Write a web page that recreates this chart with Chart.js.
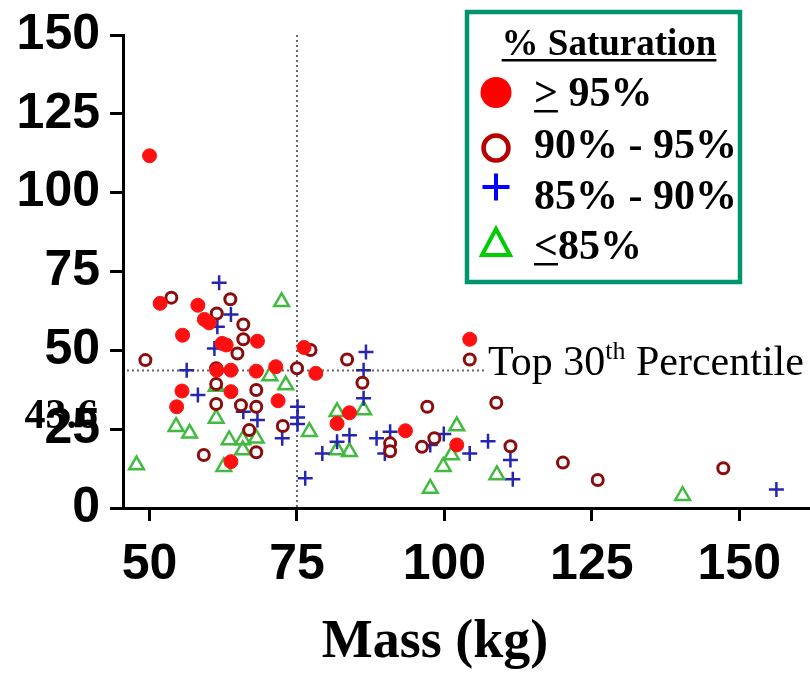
<!DOCTYPE html>
<html>
<head>
<meta charset="utf-8">
<script src="https://cdn.jsdelivr.net/npm/chart.js@4.4.1/dist/chart.umd.min.js"></script>
<style>
  html, body { margin: 0; padding: 0; background: #fff; }
  #wrap { position: relative; width: 810px; height: 677px; }
  canvas { display: block; }
</style>
</head>
<body>
<div id="wrap"><canvas id="c" width="810" height="677"></canvas></div>
<script>
// ---- data ----
const xTickValues = [50, 75, 100, 125, 150];
const yTickValues = [0, 25, 50, 75, 100, 125, 150];

const sat95X = [50.0, 51.8, 58.2, 59.3, 60.1, 55.6, 62.3, 63.0, 68.3, 61.4, 63.8, 68.1, 71.4, 78.2, 76.2, 55.5, 54.6, 63.8, 71.8, 63.8, 104.3, 83.9, 81.8, 93.4, 102.1];
const sat95Y = [111.7, 64.9, 64.3, 59.8, 58.7, 54.8, 52.2, 51.7, 52.9, 43.7, 43.7, 43.4, 44.8, 42.7, 50.9, 37.1, 32.1, 36.9, 34.0, 14.7, 53.5, 30.2, 26.8, 24.5, 20.0];

const sat90X = [53.7, 63.7, 61.4, 65.9, 65.9, 64.9, 49.3, 61.3, 61.3, 68.1, 61.3, 65.5, 68.1, 66.9, 72.6, 59.2, 68.1, 75.0, 77.3, 83.5, 86.1, 104.3, 97.1, 108.8, 90.8, 90.8, 96.2, 98.3, 111.2, 120.1, 126.0, 147.3];
const sat90Y = [66.7, 66.2, 61.7, 58.2, 53.5, 49.0, 46.9, 44.3, 39.3, 37.4, 33.0, 32.6, 32.1, 24.7, 26.0, 16.8, 17.7, 44.3, 50.1, 47.1, 39.7, 47.1, 32.1, 33.4, 20.5, 18.0, 19.4, 22.1, 19.6, 14.4, 8.9, 12.6];

const sat85X = [61.8, 63.8, 61.5, 61.0, 56.3, 58.2, 65.9, 68.3, 75.1, 75.1, 75.1, 72.5, 76.4, 86.7, 86.3, 86.3, 81.8, 83.9, 79.3, 88.5, 90.8, 89.9, 99.9, 97.6, 104.3, 107.4, 111.2, 111.6, 156.3];
const sat85Y = [71.4, 61.4, 57.5, 50.6, 43.7, 35.8, 30.5, 27.9, 32.1, 28.7, 26.6, 22.1, 9.4, 49.5, 43.7, 34.8, 21.0, 23.1, 17.3, 22.1, 24.2, 17.3, 23.5, 20.0, 17.3, 21.2, 15.2, 9.1, 5.9];

const satLowX = [72.4, 70.4, 73.1, 61.3, 61.3, 54.5, 56.8, 63.5, 65.8, 68.1, 65.8, 62.6, 47.8, 77.1, 81.8, 81.8, 83.9, 86.3, 102.1, 101.2, 99.8, 97.6, 108.9, 140.4];
const satLowY = [65.4, 41.9, 39.0, 38.5, 28.4, 25.8, 23.7, 21.6, 21.6, 22.1, 18.4, 13.1, 13.6, 24.2, 30.5, 18.4, 17.8, 31.1, 26.0, 16.8, 13.1, 6.2, 10.5, 3.9];

const refMass = 75;
const refPercentile = 43.6;
const legendTitle = '% Saturation';
const legendLabels = ['95%', '90% - 95%', '85% - 90%', '85%'];
const xTitle = 'Mass (kg)';

// ---- helpers ----
const pts = (xs, ys) => xs.map((x, i) => ({ x: x, y: ys[i] }));
const SERIF = '"Liberation Serif", "Times New Roman", serif';

const refLines = {
  id: 'refLines',
  beforeDatasetsDraw(chart) {
    const { ctx, chartArea, scales } = chart;
    const xp = scales.x.getPixelForValue(refMass);
    const yp = scales.y.getPixelForValue(refPercentile);
    ctx.save();
    ctx.strokeStyle = '#666';
    ctx.lineWidth = 2;
    ctx.setLineDash([2, 3]);
    ctx.beginPath();
    ctx.moveTo(xp, chartArea.top);
    ctx.lineTo(xp, chartArea.bottom);
    ctx.stroke();
    ctx.beginPath();
    ctx.moveTo(chartArea.left + 4, yp);
    ctx.lineTo(486, yp);
    ctx.stroke();
    ctx.restore();
  },
  afterDraw(chart) {
    const { ctx, scales } = chart;
    const yp = scales.y.getPixelForValue(refPercentile);
    ctx.save();
    ctx.fillStyle = '#000';
    ctx.textBaseline = 'alphabetic';
    // "Top 30th Percentile"
    let x = 488;
    const base = yp + 4;
    ctx.font = '42px ' + SERIF;
    ctx.textAlign = 'left';
    ctx.fillText('Top 30', x, base);
    x += ctx.measureText('Top 30').width;
    ctx.font = '26px ' + SERIF;
    ctx.fillText('th', x, base - 16);
    x += ctx.measureText('th').width;
    ctx.font = '42px ' + SERIF;
    ctx.fillText(' Percentile', x, base);
    // "43.6"
    ctx.font = 'bold 42px ' + SERIF;
    ctx.textAlign = 'right';
    ctx.fillText(String(refPercentile), 98, yp + 57);
    // x axis title
    ctx.font = 'bold 54px ' + SERIF;
    ctx.textAlign = 'center';
    ctx.textBaseline = 'middle';
    ctx.fillText(xTitle, 435, 643);
    ctx.restore();

    // ---- legend box ----
    ctx.save();
    ctx.strokeStyle = '#00956f';
    ctx.lineWidth = 4.5;
    ctx.setLineDash([]);
    ctx.strokeRect(467, 12, 273, 270);
    ctx.fillStyle = '#000';
    ctx.textAlign = 'left';
    ctx.textBaseline = 'alphabetic';
    ctx.font = 'bold 37px ' + SERIF;
    const tw = ctx.measureText(legendTitle).width;
    const tx = 609 - tw / 2;
    ctx.fillText(legendTitle, tx, 55);
    ctx.fillRect(tx, 59, tw, 2.5);

    const lx = 534;
    const bases = [106, 158, 209, 259];
    ctx.font = 'bold 42px ' + SERIF;
    // >= 95%
    ctx.fillText('>', lx, bases[0]);
    const gw = ctx.measureText('>').width;
    ctx.fillRect(lx, bases[0] + 4, gw, 2.5);
    ctx.fillText(' ' + legendLabels[0], lx + gw, bases[0]);
    ctx.fillText(legendLabels[1], lx, bases[1]);
    ctx.fillText(legendLabels[2], lx, bases[2]);
    ctx.fillText('<', lx, bases[3]);
    const lw = ctx.measureText('<').width;
    ctx.fillRect(lx, bases[3] + 4, lw, 2.5);
    ctx.fillText(legendLabels[3], lx + lw, bases[3]);

    // markers
    const mx = 496;
    ctx.fillStyle = '#ff0000';
    ctx.beginPath(); ctx.arc(mx, 92.5, 15.5, 0, Math.PI * 2); ctx.fill();
    ctx.strokeStyle = '#b80000'; ctx.lineWidth = 4.5;
    ctx.beginPath(); ctx.arc(mx, 148, 12.5, 0, Math.PI * 2); ctx.stroke();
    ctx.strokeStyle = '#0000ff'; ctx.lineWidth = 4;
    ctx.beginPath(); ctx.moveTo(mx - 13.5, 187); ctx.lineTo(mx + 13.5, 187);
    ctx.moveTo(mx, 173.5); ctx.lineTo(mx, 200.5); ctx.stroke();
    ctx.strokeStyle = '#00cc00'; ctx.lineWidth = 4;
    ctx.beginPath(); ctx.moveTo(mx, 229); ctx.lineTo(mx + 14, 255); ctx.lineTo(mx - 14, 255); ctx.closePath(); ctx.stroke();
    ctx.restore();
  }
};

const tickFont = { family: '"Liberation Sans", Arial, sans-serif', weight: 'bold', size: 50 };

new Chart(document.getElementById('c'), {
  type: 'scatter',
  data: {
    datasets: [
      { label: '>= 95%', data: pts(sat95X, sat95Y), pointStyle: 'circle', pointRadius: 7, backgroundColor: '#ff1010', borderColor: '#ff1010', borderWidth: 1 },
      { label: '90% - 95%', data: pts(sat90X, sat90Y), pointStyle: 'circle', pointRadius: 5.5, backgroundColor: '#ffffff', borderColor: '#8a0c0c', borderWidth: 3 },
      { label: '85% - 90%', data: pts(sat85X, sat85Y), pointStyle: 'cross', pointRadius: 7.5, borderColor: '#2525b0', borderWidth: 2.5 },
      { label: '<= 85%', data: pts(satLowX, satLowY), pointStyle: 'triangle', pointRadius: 8.5, backgroundColor: 'rgba(0,0,0,0)', borderColor: '#40bb40', borderWidth: 2.5 }
    ]
  },
  options: {
    responsive: false,
    animation: false,
    devicePixelRatio: 1,
    layout: { autoPadding: false, padding: { left: 0, right: 0, top: 35, bottom: 0 } },
    plugins: { legend: { display: false }, tooltip: { enabled: false } },
    scales: {
      x: {
        type: 'linear', min: 45.5, max: 162,
        afterBuildTicks: s => { s.ticks = xTickValues.map(v => ({ value: v })); },
        afterFit: s => { s.height = 169; s.paddingLeft = 0; s.paddingRight = 0; },
        ticks: { font: tickFont, color: '#000', padding: 14 },
        grid: { drawOnChartArea: false, tickLength: 13, tickWidth: 3, tickColor: '#000' },
        border: { width: 3, color: '#000' },
        title: { display: false }
      },
      y: {
        type: 'linear', min: 0, max: 150,
        afterBuildTicks: s => { s.ticks = yTickValues.map(v => ({ value: v })); },
        afterFit: s => { s.width = 123; s.paddingTop = 0; s.paddingBottom = 0; },
        ticks: { font: tickFont, color: '#000', padding: 10 },
        grid: { drawOnChartArea: false, tickLength: 13, tickWidth: 3, tickColor: '#000' },
        border: { width: 3, color: '#000' }
      }
    }
  },
  plugins: [refLines]
});
</script>
</body>
</html>
